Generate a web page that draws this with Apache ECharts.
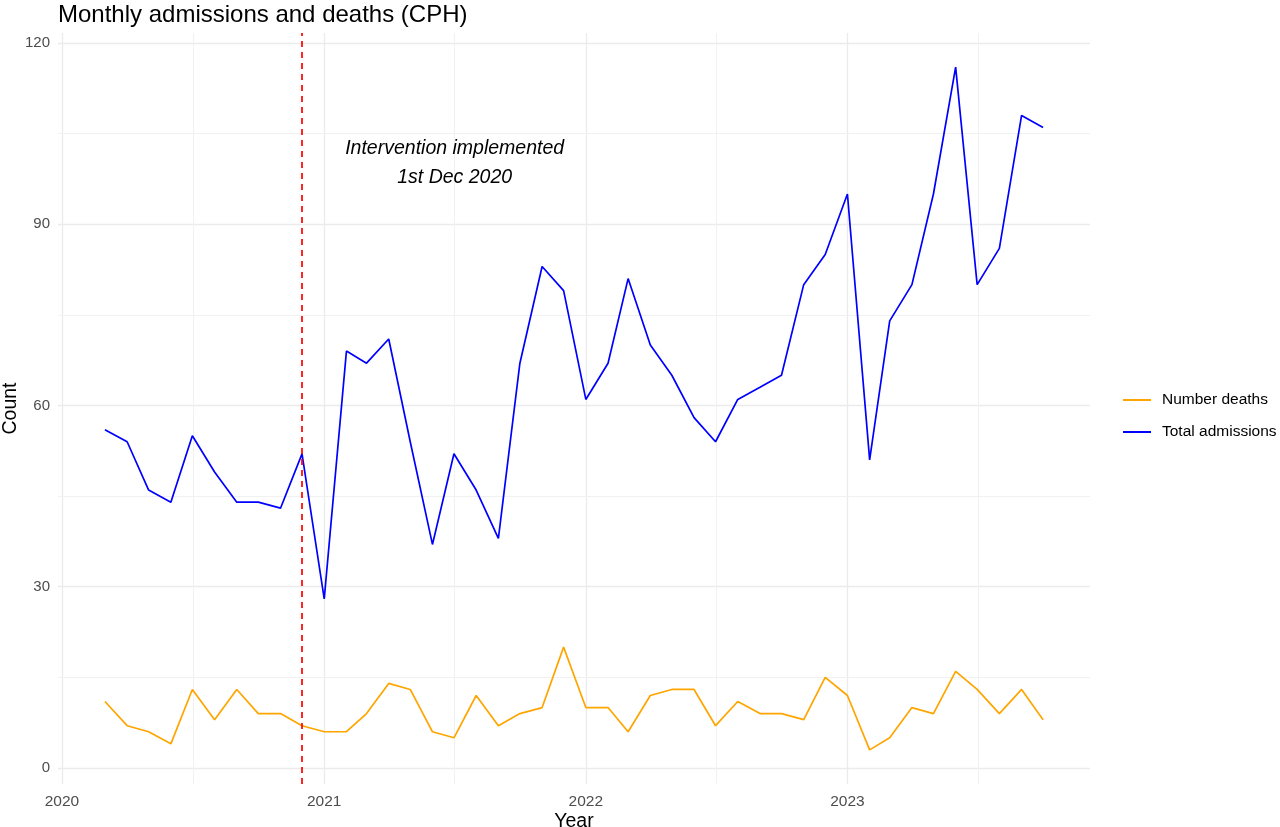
<!DOCTYPE html>
<html>
<head>
<meta charset="utf-8">
<script src="https://cdn.jsdelivr.net/npm/echarts@6/dist/echarts.min.js"></script>
<style>
  html, body { margin: 0; padding: 0; background: #fff; }
  #chart { width: 1280px; height: 827px; }
</style>
</head>
<body>
<div id="chart"></div>
<script>
// monthly values, Mar 2020 .. Oct 2023
var months = [
  '2020-03', '2020-04', '2020-05', '2020-06', '2020-07', '2020-08', '2020-09', '2020-10', '2020-11', '2020-12',
  '2021-01', '2021-02', '2021-03', '2021-04', '2021-05', '2021-06', '2021-07', '2021-08', '2021-09', '2021-10', '2021-11', '2021-12',
  '2022-01', '2022-02', '2022-03', '2022-04', '2022-05', '2022-06', '2022-07', '2022-08', '2022-09', '2022-10', '2022-11', '2022-12',
  '2023-01', '2023-02', '2023-03', '2023-04', '2023-05', '2023-06', '2023-07', '2023-08', '2023-09', '2023-10'
];
var totalAdmissions = [
  56, 54, 46, 44, 55, 49, 44, 44, 43, 52,
  28, 69, 67, 71, 54, 37, 52, 46, 38, 67, 83, 79,
  61, 67, 81, 70, 65, 58, 54, 61, 63, 65, 80, 85,
  95, 51, 74, 80, 95, 116, 80, 86, 108, 106
];
var numberDeaths = [
  11, 7, 6, 4, 13, 8, 13, 9, 9, 7,
  6, 6, 9, 14, 13, 6, 5, 12, 7, 9, 10, 20,
  10, 10, 6, 12, 13, 13, 7, 11, 9, 9, 8, 15,
  12, 3, 5, 10, 9, 16, 13, 9, 13, 8
];
var yMinorBreaks = [15, 45, 75, 105];
var xMinorBreaks = ['2020-07-02', '2021-07-02', '2022-07-02', '2023-07-02'];
var interventionDate = '2020-12-01';

function toPoints(vals) {
  return months.map(function (m, i) { return [m + '-01', vals[i]]; });
}

var font = '"Liberation Sans", Arial, sans-serif';
var chart = echarts.init(document.getElementById('chart'));

// minor grid (ggplot style, thinner than the major one)
var minorLines = yMinorBreaks.map(function (v) { return { yAxis: v }; })
  .concat(xMinorBreaks.map(function (d) { return { xAxis: d }; }));

chart.setOption({
  animation: false,
  textStyle: { fontFamily: font },
  title: {
    text: 'Monthly admissions and deaths (CPH)',
    left: 53, top: -2,
    textStyle: { fontSize: 24, fontWeight: 'normal', color: '#000', fontFamily: font }
  },
  legend: {
    orient: 'vertical',
    left: 1118, top: 387,
    icon: 'rect',
    itemWidth: 28, itemHeight: 2, itemGap: 16,
    data: ['Number deaths', 'Total admissions'],
    textStyle: { fontSize: 15.5, color: '#000', padding: [0, 0, 0, 6] }
  },
  grid: { left: 58, right: 190, top: 33, bottom: 43, containLabel: false, outerBoundsMode: 'none' },
  xAxis: {
    type: 'time',
    min: new Date(2019, 11, 26, 13).getTime(),
    max: new Date(2023, 11, 5, 11).getTime(),
    minInterval: 365 * 24 * 3600 * 1000,
    name: 'Year', nameLocation: 'middle', nameGap: 28, nameMoveOverlap: false,
    nameTextStyle: { fontSize: 19.5, color: '#000' },
    axisLine: { show: false }, axisTick: { show: false },
    axisLabel: { formatter: '{yyyy}', fontSize: 15.5, color: '#4d4d4d', margin: 10, showMinLabel: false, showMaxLabel: false },
    splitLine: { show: true, showMinLine: false, showMaxLine: false, lineStyle: { color: '#ebebeb', width: 1.3 } }
  },
  yAxis: {
    type: 'value',
    min: -2.65, max: 121.65,
    splitNumber: 4, minInterval: 30, maxInterval: 30,
    name: 'Count', nameLocation: 'middle', nameGap: 37, nameMoveOverlap: false,
    nameTextStyle: { fontSize: 19.5, color: '#000' },
    axisLine: { show: false }, axisTick: { show: false },
    axisLabel: { fontSize: 15, color: '#4d4d4d', margin: 8, showMinLabel: false, showMaxLabel: false },
    splitLine: { show: true, showMinLine: false, showMaxLine: false, lineStyle: { color: '#ebebeb', width: 1.3 } }
  },
  series: [
    {
      name: 'minor grid', type: 'line', data: [], z: 1, silent: true,
      markLine: {
        silent: true, z: 1, symbol: ['none', 'none'], label: { show: false },
        lineStyle: { color: '#f1f1f1', width: 1, type: 'solid' },
        emphasis: { disabled: true },
        data: minorLines
      }
    },
    {
      name: 'Number deaths', type: 'line', symbol: 'none', z: 3,
      lineStyle: { color: '#ffa500', width: 1.7 }, itemStyle: { color: '#ffa500' },
      data: toPoints(numberDeaths)
    },
    {
      name: 'Total admissions', type: 'line', symbol: 'none', z: 3,
      lineStyle: { color: '#0000ff', width: 1.7 }, itemStyle: { color: '#0000ff' },
      data: toPoints(totalAdmissions),
      markLine: {
        silent: true, symbol: ['none', 'none'], label: { show: false },
        lineStyle: { color: '#ff0000', width: 1.7, type: [6, 5] },
        data: [{ xAxis: interventionDate }]
      },
      markPoint: {
        silent: true, symbol: 'circle', symbolSize: 0,
        label: {
          show: true, position: 'inside',
          formatter: 'Intervention implemented\n1st Dec 2020',
          fontSize: 19.5, fontStyle: 'italic', color: '#000', lineHeight: 29, align: 'center'
        },
        data: [{ coord: ['2021-07-02', 100.15] }]
      }
    }
  ]
});
</script>
</body>
</html>
